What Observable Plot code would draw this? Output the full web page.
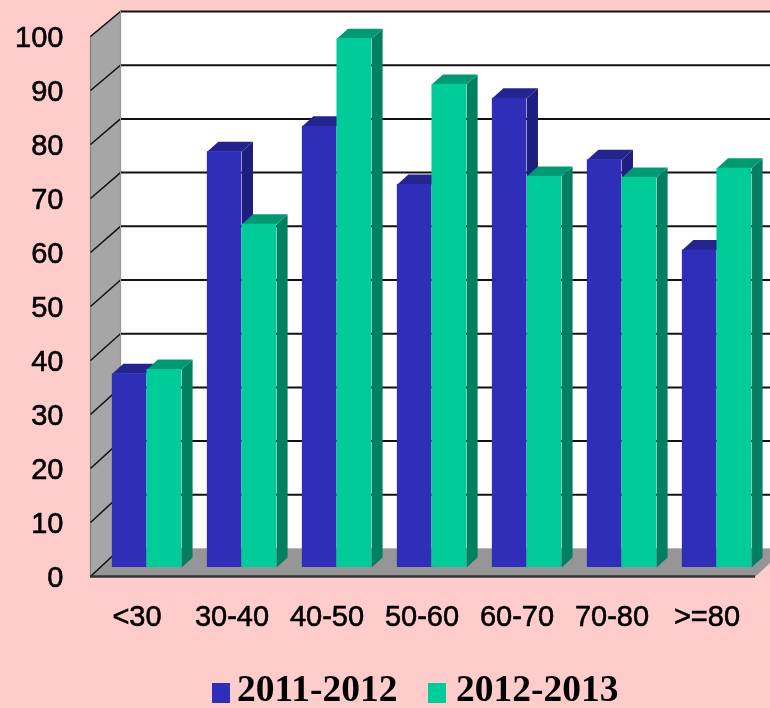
<!DOCTYPE html>
<html>
<head>
<meta charset="utf-8">
<script src="https://cdn.jsdelivr.net/npm/d3@7"></script>
<script src="https://cdn.jsdelivr.net/npm/@observablehq/plot@0.6"></script>
<style>
html,body{margin:0;padding:0;width:770px;height:708px;overflow:hidden;background:#ffcccc;}
#chart,#legend{filter:blur(0.4px);}
#chart text{stroke:#000;stroke-width:0.6px;}
#legend{position:relative;height:38px;font:bold 37.5px "Liberation Serif",serif;color:#000;}
#legend span{position:absolute;white-space:nowrap;line-height:30px;top:4px;}
#legend i{position:absolute;width:18px;height:20px;top:13px;display:block;}
</style>
</head>
<body>
<div id="chart"></div>
<div id="legend"></div>
<script>
const ageGroups = ["<30","30-40","40-50","50-60","60-70","70-80",">=80"];
const series2011 = [36.0,77.3,82.0,71.2,87.2,75.8,59.0];
const series2012 = [36.8,63.8,98.3,89.8,72.7,72.5,74.2];
const yTicks = [0,10,20,30,40,50,60,70,80,90,100];
const seriesNames = ["2011-2012","2012-2013"];
const blue = {front:"#2e2eb8",top:"#24248f",side:"#1e1e80"};
const green = {front:"#00cc99",top:"#009973",side:"#008060"};

// 3D projection, expressed in data units
const wallDx = 30/95;
const back = v => v*0.9944 + 5.185;
const xMax = 680/95;
const barStart = 0.23, barW = 0.3645;
const base = 1.667, barScale = 5.38/5.4;
const barDx = 11/95, barDy = 1.85;

function faces(values, offset, col, tag){
  const out = [];
  values.forEach((v,i)=>{
    const x1 = i+barStart+offset*barW, x2 = x1+barW, t = base+v*barScale;
    const id = tag+i;
    [[x2,base],[x2+barDx,base+barDy],[x2+barDx,t+barDy],[x2,t]]
      .forEach(p=>out.push({z:id+"s",x:p[0],y:p[1],c:col.side}));
    [[x1,t],[x1+barDx,t+barDy],[x2+barDx,t+barDy],[x2,t]]
      .forEach(p=>out.push({z:id+"t",x:p[0],y:p[1],c:col.top}));
  });
  return out;
}
const fronts = (values, offset) => values.map((v,i)=>({
  x1:i+barStart+offset*barW, x2:i+barStart+(offset+1)*barW, y1:base, y2:base+v*barScale}));
const poly = (data) => Plot.line(data,{x:"x",y:"y",z:"z",fill:"c",stroke:"none",curve:"linear"});

const sideWall = [[0,0],[wallDx,back(0)],[wallDx,back(100)],[0,100]].map(p=>({z:"w",x:p[0],y:p[1],c:"#a6a6a6"}));
const floor = [[0,0],[7,0],[7+wallDx,back(0)],[wallDx,back(0)]].map(p=>({z:"f",x:p[0],y:p[1],c:"#969696"}));

const plot = Plot.plot({
  width:770, height:670,
  marginLeft:90, marginRight:0, marginTop:36, marginBottom:94,
  style:{background:"#ffcccc",color:"#000",fontFamily:"'Liberation Sans',Arial,sans-serif"},
  x:{domain:[0,xMax],axis:null},
  y:{domain:[0,100],axis:null},
  color:{type:"identity"},
  marks:[
    Plot.rect([0],{x1:wallDx,x2:xMax+1,y1:back(0),y2:back(100),fill:"#fff"}),
    poly(sideWall),
    Plot.line(sideWall.concat(sideWall[0]),{x:"x",y:"y",stroke:"#808080",strokeWidth:1.2}),
    poly(floor),
    Plot.ruleY(yTicks.filter(d=>d>0),{y:back,x1:wallDx,x2:xMax+1,stroke:"#111",strokeWidth:2}),
    Plot.link(yTicks,{x1:()=>0,y1:d=>d,x2:()=>wallDx,y2:back,stroke:"#111",strokeWidth:1.5}),
    Plot.ruleX([wallDx],{y1:back(0),y2:back(100),stroke:"#999",strokeWidth:1}),
    poly(faces(series2011,0,blue,"a")),
    Plot.rect(fronts(series2011,0),{x1:"x1",x2:"x2",y1:"y1",y2:"y2",fill:blue.front}),
    poly(faces(series2012,1,green,"b")),
    Plot.rect(fronts(series2012,1),{x1:"x1",x2:"x2",y1:"y1",y2:"y2",fill:green.front}),
    Plot.ruleY([0],{x1:0,x2:7,stroke:"#333",strokeWidth:2.5}),
    Plot.axisY({ticks:yTicks,tickSize:0,tickPadding:27,fontSize:29,label:null,dy:1,tickFormat:d=>String(d)}),
    Plot.axisX({ticks:ageGroups.map((_,i)=>i+0.5),tickSize:0,tickPadding:29,fontSize:29,label:null,dx:-1,
      tickFormat:d=>ageGroups[Math.floor(d)]})
  ]
});
document.getElementById("chart").appendChild(plot);

const legend = document.getElementById("legend");
[[212,237,blue.front],[428,456,green.front]].forEach((pos,i)=>{
  const sw = document.createElement("i");
  sw.style.left = pos[0]+"px"; sw.style.background = pos[2];
  legend.appendChild(sw);
  const t = document.createElement("span");
  t.style.left = pos[1]+"px"; t.textContent = seriesNames[i];
  legend.appendChild(t);
});
</script>
</body>
</html>
